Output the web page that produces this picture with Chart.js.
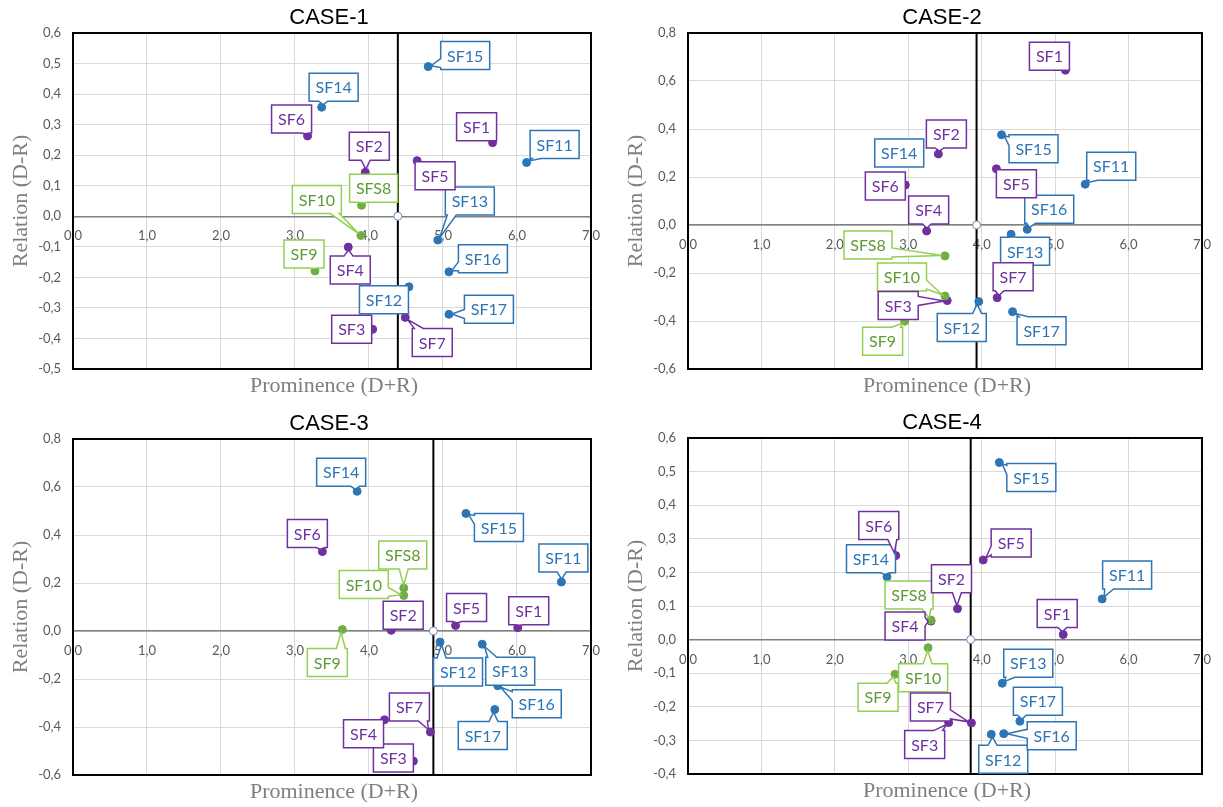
<!DOCTYPE html>
<html><head><meta charset="utf-8">
<script src="https://cdn.jsdelivr.net/npm/chart.js@4.4.1/dist/chart.umd.min.js"></script>
<style>
html,body{margin:0;padding:0;background:#fff;width:1223px;height:807px;overflow:hidden}
.c{position:absolute}
canvas{display:block}
</style></head><body>
<div class="c" style="left:0;top:0"><canvas id="c1" width="612" height="404"></canvas></div>
<div class="c" style="left:612px;top:0"><canvas id="c2" width="611" height="404"></canvas></div>
<div class="c" style="left:0;top:404px"><canvas id="c3" width="612" height="403"></canvas></div>
<div class="c" style="left:612px;top:404px"><canvas id="c4" width="611" height="403"></canvas></div>
<script>
// ---- data ----
const factors = ['SF1','SF2','SF3','SF4','SF5','SF6','SF7','SFS8','SF9','SF10','SF11','SF12','SF13','SF14','SF15','SF16','SF17'];
const groupPurple = [0,1,2,3,4,5,6];
const groupGreen = [7,8,9];
const groupBlue = [10,11,12,13,14,15,16];

const case1X = [5.67,3.95,4.05,3.72,4.65,3.17,4.49,3.90,3.27,3.89,6.13,4.54,4.93,3.36,4.80,5.08,5.08];
const case1Y = [0.241,0.144,-0.370,-0.101,0.182,0.263,-0.331,0.036,-0.179,-0.063,0.176,-0.231,-0.078,0.357,0.490,-0.182,-0.321];
const case1Mean = 4.39;

const case2X = [5.14,3.41,3.53,3.25,4.20,2.96,4.21,3.50,2.95,3.50,5.41,3.96,4.40,3.04,4.27,4.62,4.42];
const case2Y = [0.645,0.296,-0.315,-0.025,0.234,0.167,-0.303,-0.129,-0.401,-0.296,0.170,-0.319,-0.039,0.275,0.376,-0.018,-0.361];
const case2Mean = 3.93;

const case3X = [6.01,4.30,4.60,4.21,5.17,3.37,4.83,4.47,3.64,4.47,6.60,4.96,5.53,3.84,5.31,5.74,5.70];
const case3Y = [0.014,0.003,-0.542,-0.370,0.023,0.331,-0.421,0.179,0.006,0.148,0.204,-0.046,-0.055,0.582,0.490,-0.228,-0.327];
const case3Mean = 4.87;

const case4X = [5.11,3.67,3.55,3.31,4.02,2.83,3.86,3.31,2.82,3.27,5.64,4.13,4.28,2.71,4.24,4.30,4.52];
const case4Y = [0.015,0.092,-0.247,0.055,0.237,0.250,-0.248,0.058,-0.103,-0.024,0.121,-0.282,-0.130,0.187,0.527,-0.280,-0.243];
const case4Mean = 3.85;

const xTicks = {min:0, max:7, step:1};
const yTicks1 = {min:-0.5, max:0.6, step:0.1};
const yTicks2 = {min:-0.6, max:0.8, step:0.2};
const yTicks3 = {min:-0.6, max:0.8, step:0.2};
const yTicks4 = {min:-0.4, max:0.6, step:0.1};

// ---- layout (label box centre offsets from the marker, px) ----
const off1 = [[-16,-16],[4,-26],[-21,0],[2,23],[18,15],[-16,-17],[27,25],[12,-17],[-11,-17],[-44,-36],[28,-18],[-25,13],[32,-39],[12,-20],[37,-11],[34,-13],[40,-5]];
const off2 = [[-16,-14],[8,-20],[-49,5],[2,-21],[20,15],[-20,1],[16,-21],[-77,-11],[-22,20],[-43,-19],[26,-18],[-17,26],[14,17],[-12,-6],[32,14],[22,-20],[29,19]];
const off3 = [[11,-17],[12,-15],[-20,-3],[-21,14],[11,-18],[-15,-18],[-21,-25],[-1,-33],[-15,33],[-40,-11],[2,-24],[18,30],[28,27],[-16,-19],[33,14],[39,18],[-12,26]];
const off4 = [[-6,-21],[-6,-30],[-24,22],[-26,5],[28,-17],[-17,-30],[-41,-16],[-22,-25],[-17,23],[-5,30],[25,-24],[12,25],[26,-20],[-16,-18],[32,15],[48,2],[18,-20]];

const COL = {
  purple:{pt:'#7030A0', box:'#7030A0', txt:'#7030A0'},
  green:{pt:'#70AD47', box:'#92D050', txt:'#5E9A36'},
  blue:{pt:'#2E75B6', box:'#2E75B6', txt:'#2E75B6'}
};

function fmt(v){ if (Math.abs(v) < 1e-9) v = 0; return v.toFixed(1).replace('.', ','); }
function clamp(v,a,b){ return Math.max(a, Math.min(b, v)); }

function drawCallout(ctx, px, py, off, text, col){
  ctx.save();
  ctx.font = '16px Lato';
  const tw = ctx.measureText(text).width;
  const w = Math.round(tw + 13), h = 28;
  const cx = px + off[0], cy = py + off[1];
  const x0 = cx - w/2, y0 = cy - h/2, x1 = x0 + w, y1 = y0 + h;
  const vx = px - cx, vy = py - cy, d = Math.hypot(vx, vy);
  let tx = px, ty = py;
  if (d > 0) { tx = px - vx/d*3; ty = py - vy/d*3; }
  const inside = tx > x0 && tx < x1 && ty > y0 && ty < y1;
  let side = null;
  if (!inside) {
    const nx = Math.abs(tx - cx)/(w/2), ny = Math.abs(ty - cy)/(h/2);
    if (ny >= nx) side = ty > cy ? 'b' : 't'; else side = tx > cx ? 'r' : 'l';
  }
  const bw = 9, m = 2;
  ctx.beginPath();
  ctx.moveTo(x0, y0);
  if (side === 't') { const bc = clamp(tx, x0+bw/2+m, x1-bw/2-m); ctx.lineTo(bc-bw/2, y0); ctx.lineTo(tx, ty); ctx.lineTo(bc+bw/2, y0); }
  ctx.lineTo(x1, y0);
  if (side === 'r') { const bc = clamp(ty, y0+bw/2+m, y1-bw/2-m); ctx.lineTo(x1, bc-bw/2); ctx.lineTo(tx, ty); ctx.lineTo(x1, bc+bw/2); }
  ctx.lineTo(x1, y1);
  if (side === 'b') { const bc = clamp(tx, x0+bw/2+m, x1-bw/2-m); ctx.lineTo(bc+bw/2, y1); ctx.lineTo(tx, ty); ctx.lineTo(bc-bw/2, y1); }
  ctx.lineTo(x0, y1);
  if (side === 'l') { const bc = clamp(ty, y0+bw/2+m, y1-bw/2-m); ctx.lineTo(x0, bc+bw/2); ctx.lineTo(tx, ty); ctx.lineTo(x0, bc-bw/2); }
  ctx.closePath();
  ctx.fillStyle = '#fff';
  ctx.fill();
  ctx.lineWidth = 1.5;
  ctx.strokeStyle = col.box;
  ctx.lineJoin = 'miter';
  ctx.stroke();
  ctx.fillStyle = col.txt;
  ctx.textAlign = 'center';
  ctx.textBaseline = 'middle';
  ctx.fillText(text, cx, cy + 1);
  ctx.restore();
}

function makeChart(id, title, xs, ys, mean, yt, offs, pad){
  const mk = (idxs) => idxs.map(i => ({x: xs[i], y: ys[i], k: i}));
  const groups = [
    {idx: groupBlue, col: COL.blue},
    {idx: groupGreen, col: COL.green},
    {idx: groupPurple, col: COL.purple}
  ];
  const datasets = [];
  groups.forEach(g => datasets.push({
    data: mk(g.idx), pointRadius: 4, pointHoverRadius: 4,
    pointBackgroundColor: g.col.pt, pointBorderColor: g.col.pt, pointBorderWidth: 1,
    showLine: false, order: 1, _callout: g.col
  }));
  datasets.push({
    data: [{x: mean, y: 0}], pointRadius: 4, pointBackgroundColor: '#fff',
    pointBorderColor: '#6F8FB8', pointBorderWidth: 1, showLine: false, order: 2
  });
  datasets.push({
    data: [{x: mean, y: yt.min}, {x: mean, y: yt.max}], showLine: true,
    borderColor: '#000', borderWidth: 2, pointRadius: 0, order: 3
  });

  const deco = {
    id: 'deco' + id,
    beforeDatasetsDraw(chart){
      const {ctx, chartArea: a} = chart;
      ctx.save();
      ctx.strokeStyle = '#000';
      ctx.lineWidth = 2;
      ctx.strokeRect(a.left, a.top, a.right - a.left, a.bottom - a.top);
      ctx.restore();
    },
    afterDatasetsDraw(chart){
      const ctx = chart.ctx;
      chart.data.datasets.forEach((ds, di) => {
        if (!ds._callout) return;
        const meta = chart.getDatasetMeta(di);
        meta.data.forEach((el, j) => {
          const k = ds.data[j].k;
          drawCallout(ctx, el.x, el.y, offs[k], factors[k], ds._callout);
        });
      });
    },
    afterDraw(chart){
      const {ctx, chartArea: a} = chart;
      ctx.save();
      ctx.fillStyle = '#000';
      ctx.font = '22px "Liberation Sans", Arial, sans-serif';
      ctx.textAlign = 'center';
      ctx.textBaseline = 'middle';
      ctx.fillText(title, (a.left + a.right)/2 - 3, a.top - 15);
      ctx.fillStyle = '#7f7f7f';
      ctx.font = '22px "Liberation Serif", "Times New Roman", serif';
      ctx.fillText('Prominence (D+R)', (a.left + a.right)/2 + 2, a.bottom + 17);
      ctx.translate(pad.left - 52, (a.top + a.bottom)/2);
      ctx.rotate(-Math.PI/2);
      ctx.fillText('Relation (D-R)', 0, 0);
      ctx.restore();
    }
  };

  return new Chart(document.getElementById(id), {
    type: 'scatter',
    data: {datasets},
    options: {
      responsive: false, animation: false, devicePixelRatio: 1,
      layout: {padding: {left: 0, top: pad.top, right: pad.right, bottom: pad.bottom}},
      plugins: {legend: {display: false}, tooltip: {enabled: false}, title: {display: false}},
      scales: {
        x: {
          type: 'linear', min: xTicks.min, max: xTicks.max, position: {y: 0},
          ticks: {stepSize: xTicks.step, callback: fmt, color: '#595959', font: {family: 'Lato', size: 13}, padding: 12, maxRotation: 0, autoSkip: false},
          grid: {color: '#d9d9d9', lineWidth: 1, drawTicks: false},
          border: {display: true, color: '#808080', width: 1.5}
        },
        y: {
          type: 'linear', min: yt.min, max: yt.max,
          ticks: {stepSize: yt.step, callback: fmt, color: '#595959', font: {family: 'Lato', size: 13}, padding: 12, autoSkip: false},
          grid: {color: '#d9d9d9', lineWidth: 1, drawTicks: false},
          border: {display: false},
          afterFit(s){ s.width = pad.left; }
        }
      }
    },
    plugins: [deco]
  });
}

makeChart('c1', 'CASE-1', case1X, case1Y, case1Mean, yTicks1, off1, {left: 73, top: 33, right: 20, bottom: 35});
makeChart('c2', 'CASE-2', case2X, case2Y, case2Mean, yTicks2, off2, {left: 76, top: 33, right: 10, bottom: 35});
makeChart('c3', 'CASE-3', case3X, case3Y, case3Mean, yTicks3, off3, {left: 73, top: 35, right: 20, bottom: 32});
makeChart('c4', 'CASE-4', case4X, case4Y, case4Mean, yTicks4, off4, {left: 76, top: 34, right: 10, bottom: 33});
</script>
</body></html>
